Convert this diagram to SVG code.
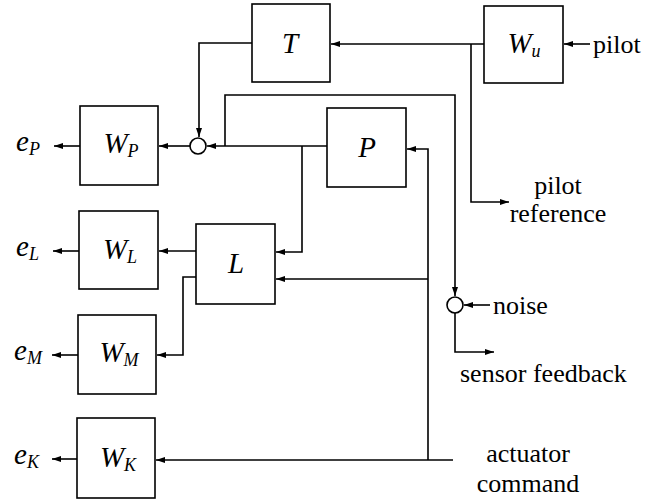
<svg xmlns="http://www.w3.org/2000/svg" width="666" height="500" viewBox="0 0 666 500">
<defs>
<marker id="arr" markerUnits="userSpaceOnUse" markerWidth="10" markerHeight="8" refX="9" refY="3" orient="auto">
<path d="M0,0 L9,3 L0,6 z" fill="#000"/>
</marker>
<style>
.box{fill:#fff;stroke:#000;stroke-width:1.6}
.sum{fill:#fff;stroke:#000;stroke-width:1.6}
.wire{fill:none;stroke:#000;stroke-width:1.6}
.arw{marker-end:url(#arr)}
.lbl{font-family:'Liberation Serif','DejaVu Serif',serif;font-size:26px;fill:#000}
.math{font-family:'Liberation Serif','DejaVu Serif',serif;font-style:italic;font-size:29px;fill:#000}
.sub{font-size:18px}
.mid{text-anchor:middle}
</style>
</defs>
<rect width="666" height="500" fill="#fff"/>

<g id="connectors">
<path class="wire arw" d="M590,44 L564,44"/>
<path class="wire arw" d="M484,44 L331,44"/>
<path class="wire arw" d="M471,44 L471,202 L509,202"/>
<path class="wire arw" d="M252,43 L199,43 L199,137"/>
<path class="wire arw" d="M327,146 L207,146"/>
<path class="wire arw" d="M190,146 L159,146"/>
<path class="wire arw" d="M80,146 L54,146"/>
<path class="wire arw" d="M225,146 L225,95 L455,95 L455,296"/>
<path class="wire arw" d="M490,305 L464,305"/>
<path class="wire arw" d="M455,313 L455,352 L494,352"/>
<path class="wire arw" d="M302,146 L302,252 L276,252"/>
<path class="wire arw" d="M453,460 L428,460 L156,460"/>
<path class="wire arw" d="M428,460 L428,149 L407,149"/>
<path class="wire arw" d="M428,279 L276,279"/>
<path class="wire arw" d="M196,251 L159,251"/>
<path class="wire arw" d="M79,251 L53,251"/>
<path class="wire arw" d="M196,277 L183,277 L183,355 L157,355"/>
<path class="wire arw" d="M78,355 L52,355"/>
<path class="wire arw" d="M77,459 L52,459"/>
</g>

<g id="T"><rect class="box" x="252" y="4" width="78" height="78"/><text class="math mid" x="290" y="53" font-family="Liberation Serif, serif">T</text></g>
<g id="Wu"><rect class="box" x="484" y="6" width="79" height="77"/><text class="math mid" x="524" y="53">W<tspan class="sub" dy="4">u</tspan></text></g>
<g id="P"><rect class="box" x="327" y="108" width="79" height="79"/><text class="math mid" x="367" y="157">P</text></g>
<g id="L"><rect class="box" x="196" y="224" width="79" height="80"/><text class="math mid" x="236" y="273">L</text></g>
<g id="WP"><rect class="box" x="80" y="106" width="78" height="79"/><text class="math mid" x="121" y="153">W<tspan class="sub" dy="4">P</tspan></text></g>
<g id="WL"><rect class="box" x="79" y="211" width="79" height="78"/><text class="math mid" x="120" y="259">W<tspan class="sub" dy="4">L</tspan></text></g>
<g id="WM"><rect class="box" x="78" y="315" width="78" height="79"/><text class="math mid" x="119" y="362">W<tspan class="sub" dy="4">M</tspan></text></g>
<g id="WK"><rect class="box" x="77" y="418" width="78" height="80"/><text class="math mid" x="118" y="467">W<tspan class="sub" dy="4">K</tspan></text></g>

<g id="sum1"><circle class="sum" cx="198" cy="146" r="8"/></g>
<g id="sum2"><circle class="sum" cx="455" cy="305" r="8"/></g>

<g id="labels">
<text class="math" x="16" y="151">e<tspan class="sub" dy="4">P</tspan></text>
<text class="math" x="16" y="256">e<tspan class="sub" dy="4">L</tspan></text>
<text class="math" x="14" y="360">e<tspan class="sub" dy="4">M</tspan></text>
<text class="math" x="14" y="464">e<tspan class="sub" dy="4">K</tspan></text>
<text class="lbl" x="593" y="53">pilot</text>
<text class="lbl mid" x="558" y="194">pilot</text>
<text class="lbl mid" x="558" y="222">reference</text>
<text class="lbl" x="493" y="314">noise</text>
<text class="lbl" x="460" y="382">sensor feedback</text>
<text class="lbl mid" x="528" y="462">actuator</text>
<text class="lbl mid" x="528" y="492">command</text>
</g>
</svg>
